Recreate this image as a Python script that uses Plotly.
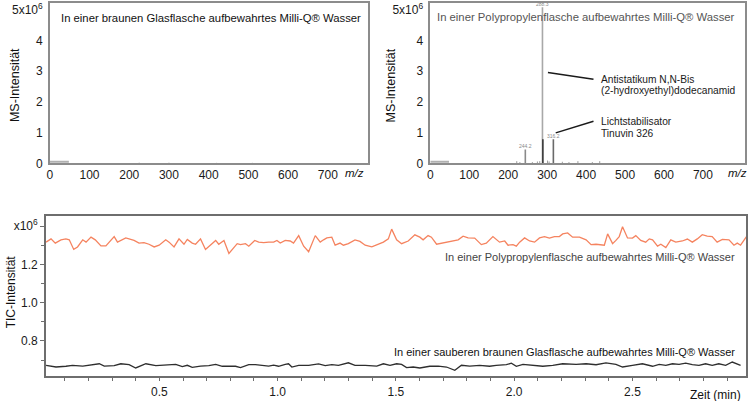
import plotly.graph_objects as go

W, H = 750, 401
FONT = "Liberation Sans, Arial, sans-serif"

# ---------------- data ----------------
# top-right mass spectrum (m/z, intensity in 1e6)
peak_mz = [244, 288, 289, 316]
peak_int = [0.45, 5.08, 0.78, 0.78]
peak_labels = ["244.2", "288.3", "", "316.2"]
peak_colors = ["#8a8a8a", "#a8a8a8", "#3a3a3a", "#6a6a6a"]
small_mz = [222, 230, 262, 275, 281, 301, 305, 339, 356, 379, 416, 435]
small_int = [0.07, 0.04, 0.04, 0.06, 0.07, 0.09, 0.06, 0.05, 0.04, 0.07, 0.04, 0.07]
noise_mz = [0, 48]
noise_int = [0.05, 0.05]
left_small_mz = [225, 300, 420, 510]
left_small_int = [0.02, 0.02, 0.015, 0.015]

# bottom TIC traces (time in min, intensity in 1e6)
pp_t = [0.021, 0.042, 0.060, 0.084, 0.105, 0.119, 0.138, 0.154, 0.176, 0.190, 0.211, 0.229,
        0.253, 0.274, 0.309, 0.323, 0.358, 0.393, 0.414, 0.435, 0.456, 0.478, 0.499, 0.527,
        0.541, 0.562, 0.583, 0.604, 0.618, 0.639, 0.653, 0.674, 0.695, 0.716, 0.738, 0.751,
        0.773, 0.794, 0.815, 0.829, 0.843, 0.864, 0.878, 0.903, 0.920, 0.941, 0.962, 0.983,
        0.997, 1.011, 1.032, 1.053, 1.067, 1.089, 1.110, 1.131, 1.159, 1.180, 1.194, 1.208,
        1.229, 1.243, 1.264, 1.278, 1.299, 1.327, 1.348, 1.370, 1.398, 1.419,
        1.447, 1.468, 1.482, 1.503, 1.524, 1.552, 1.580, 1.601, 1.615, 1.636, 1.650, 1.672,
        1.721, 1.763, 1.784, 1.805, 1.833, 1.861, 1.882, 1.910, 1.938, 1.960, 1.974, 1.995,
        2.009, 2.023, 2.044, 2.065, 2.086, 2.107, 2.128, 2.149, 2.170, 2.191, 2.205, 2.226,
        2.247, 2.276, 2.304, 2.325, 2.346, 2.381, 2.395, 2.416, 2.430, 2.444, 2.458, 2.479,
        2.500, 2.514, 2.535, 2.556, 2.571, 2.585, 2.606, 2.620, 2.641, 2.662, 2.683, 2.711,
        2.732, 2.753, 2.774, 2.795, 2.816, 2.837, 2.858, 2.880, 2.908, 2.929, 2.943, 2.957, 2.982]
pp_v = [1.316, 1.333, 1.311, 1.328, 1.333, 1.328, 1.278, 1.291, 1.328, 1.316, 1.342, 1.328,
        1.296, 1.296, 1.345, 1.316, 1.338, 1.325, 1.311, 1.313, 1.305, 1.291, 1.300, 1.328,
        1.316, 1.291, 1.333, 1.305, 1.330, 1.311, 1.305, 1.333, 1.278, 1.300, 1.325, 1.305,
        1.325, 1.257, 1.288, 1.308, 1.303, 1.308, 1.295, 1.325, 1.316, 1.313, 1.316, 1.316,
        1.325, 1.311, 1.325, 1.322, 1.311, 1.350, 1.295, 1.266, 1.350, 1.316, 1.328, 1.338,
        1.342, 1.300, 1.311, 1.300, 1.308, 1.328, 1.320, 1.300, 1.291, 1.300,
        1.316, 1.333, 1.384, 1.328, 1.308, 1.322, 1.354, 1.342, 1.328, 1.350, 1.342, 1.305,
        1.316, 1.328, 1.347, 1.338, 1.337, 1.303, 1.311, 1.345, 1.316, 1.322, 1.300, 1.303,
        1.295, 1.316, 1.338, 1.322, 1.316, 1.338, 1.345, 1.337, 1.345, 1.345, 1.359, 1.364,
        1.342, 1.342, 1.328, 1.303, 1.305, 1.300, 1.359, 1.308, 1.325, 1.345, 1.396, 1.338,
        1.337, 1.350, 1.325, 1.316, 1.333, 1.328, 1.295, 1.305, 1.288, 1.328, 1.316, 1.322,
        1.332, 1.316, 1.333, 1.355, 1.347, 1.345, 1.316, 1.330, 1.328, 1.300, 1.311, 1.300, 1.345]

gl_t = [0.021, 0.063, 0.105, 0.133, 0.176, 0.204, 0.246, 0.267, 0.309, 0.337, 0.372, 0.400,
        0.443, 0.485, 0.527, 0.569, 0.597, 0.618, 0.639, 0.674, 0.709, 0.738, 0.766, 0.794,
        0.822, 0.843, 0.878, 0.906, 0.934, 0.962, 0.983, 1.004, 1.032, 1.046, 1.060, 1.089,
        1.131, 1.173, 1.201, 1.229, 1.257, 1.299, 1.327, 1.370, 1.419,
        1.447, 1.475, 1.503, 1.524, 1.545, 1.573, 1.601, 1.643, 1.679, 1.714, 1.749, 1.777,
        1.812, 1.854, 1.896, 1.924, 1.967, 1.988, 2.009, 2.037, 2.079, 2.121, 2.163, 2.205,
        2.262, 2.304, 2.346, 2.388, 2.430, 2.458, 2.500, 2.542, 2.585, 2.613, 2.641, 2.669,
        2.697, 2.725, 2.753, 2.781, 2.809, 2.837, 2.865, 2.894, 2.922, 2.957]
gl_v = [0.673, 0.664, 0.668, 0.673, 0.669, 0.673, 0.681, 0.669, 0.671, 0.681, 0.676, 0.659,
        0.681, 0.671, 0.673, 0.678, 0.666, 0.673, 0.662, 0.669, 0.671, 0.678, 0.668, 0.669,
        0.668, 0.661, 0.676, 0.676, 0.673, 0.669, 0.674, 0.668, 0.678, 0.681, 0.664, 0.673,
        0.673, 0.680, 0.671, 0.676, 0.673, 0.686, 0.673, 0.673, 0.669,
        0.681, 0.673, 0.681, 0.678, 0.661, 0.664, 0.659, 0.668, 0.669, 0.664, 0.647, 0.673,
        0.669, 0.673, 0.668, 0.673, 0.676, 0.684, 0.668, 0.678, 0.673, 0.668, 0.673, 0.681,
        0.678, 0.681, 0.676, 0.686, 0.678, 0.664, 0.673, 0.681, 0.668, 0.678, 0.673, 0.681,
        0.678, 0.684, 0.676, 0.673, 0.681, 0.673, 0.681, 0.673, 0.690, 0.673]

ms_xticks = [0, 100, 200, 300, 400, 500, 600, 700]
ms_yticks = [0, 1, 2, 3, 4, 5]
ms_yticktext = ["0", "1", "2", "3", "4", "5x10<sup>6</sup>"]
tic_xticks = [0.5, 1.0, 1.5, 2.0, 2.5]
tic_xticktext = ["0.5", "1.0", "1.5", "2.0", "2.5"]
tic_yticks = [0.8, 1.0, 1.2, 1.4]
tic_yticktext = ["0.8", "1.0", "1.2", "x10<sup>6</sup>"]

title_left = "In einer braunen Glasflasche aufbewahrtes Milli-Q® Wasser"
title_right = "In einer Polypropylenflasche aufbewahrtes Milli-Q® Wasser"
label_pp = "In einer Polypropylenflasche aufbewahrtes Milli-Q® Wasser"
label_gl = "In einer sauberen braunen Glasflasche aufbewahrtes Milli-Q® Wasser"

# ---------------- helpers ----------------
def px(x):
    return x / W

def py(y):
    return 1 - y / H

def stems(xs, ys):
    X, Y = [], []
    for a, b in zip(xs, ys):
        X += [a, a, None]
        Y += [0, b, None]
    return X, Y

fig = go.Figure()

# top-left spectrum
fig.add_trace(go.Scatter(x=noise_mz, y=noise_int, mode="lines", line=dict(color="#b0b0b0", width=2),
                         xaxis="x", yaxis="y", showlegend=False, hoverinfo="skip"))
sx, sy = stems(left_small_mz, left_small_int)
fig.add_trace(go.Scatter(x=sx, y=sy, mode="lines", line=dict(color="#a0a0a0", width=1),
                         xaxis="x", yaxis="y", showlegend=False, hoverinfo="skip"))

# top-right spectrum
fig.add_trace(go.Scatter(x=noise_mz, y=noise_int, mode="lines", line=dict(color="#b0b0b0", width=2),
                         xaxis="x2", yaxis="y2", showlegend=False, hoverinfo="skip"))
sx, sy = stems(small_mz, small_int)
fig.add_trace(go.Scatter(x=sx, y=sy, mode="lines", line=dict(color="#9a9a9a", width=1),
                         xaxis="x2", yaxis="y2", showlegend=False, hoverinfo="skip"))
for m, v, c in zip(peak_mz, peak_int, peak_colors):
    sx, sy = stems([m], [v])
    fig.add_trace(go.Scatter(x=sx, y=sy, mode="lines", line=dict(color=c, width=1.6),
                             xaxis="x2", yaxis="y2", showlegend=False, hoverinfo="skip"))
for m, v, t in zip(peak_mz, peak_int, peak_labels):
    if t:
        fig.add_annotation(x=m, y=v, xref="x2", yref="y2", text=t, showarrow=False,
                           yanchor="bottom", yshift=-2, font=dict(size=5, color="#8a8a8a", family=FONT))

# bottom TIC
fig.add_trace(go.Scatter(x=pp_t, y=pp_v, mode="lines", line=dict(color="#f5835f", width=1.3),
                         xaxis="x3", yaxis="y3", showlegend=False))
fig.add_trace(go.Scatter(x=gl_t, y=gl_v, mode="lines", line=dict(color="#2e2e2e", width=1.3),
                         xaxis="x3", yaxis="y3", showlegend=False))

frame_top = dict(showline=True, linecolor="#8c8c8c", linewidth=1.5, mirror=True,
                 showgrid=False, zeroline=False, ticklabeloverflow="allow",
                 tickfont=dict(family=FONT, size=12, color="#1a1a1a"))
frame_bot = dict(showline=True, linecolor="#6e6e6e", linewidth=1.5, mirror=True,
                 showgrid=False, zeroline=False, ticklabeloverflow="allow",
                 tickfont=dict(family=FONT, size=12, color="#1a1a1a"))

ms_ymax = 5.22
fig.update_layout(
    width=W, height=H, margin=dict(l=0, r=0, t=0, b=0),
    paper_bgcolor="white", plot_bgcolor="white",
    font=dict(family=FONT),
    xaxis=dict(domain=[px(47), px(366)], range=[0, 800], tickvals=ms_xticks, ticks="",
               anchor="y", **frame_top),
    yaxis=dict(domain=[py(165), py(1)], range=[0, ms_ymax], tickvals=ms_yticks,
               ticktext=ms_yticktext, ticks="", anchor="x", ticklabelstandoff=3, **frame_top),
    xaxis2=dict(domain=[px(429), px(745)], range=[0, 808], tickvals=ms_xticks, ticks="",
                anchor="y2", **frame_top),
    yaxis2=dict(domain=[py(165), py(1)], range=[0, ms_ymax], tickvals=ms_yticks,
                ticktext=ms_yticktext, ticks="", anchor="x2", ticklabelstandoff=3, **frame_top),
    xaxis3=dict(domain=[px(43), px(746)], range=[0.02, 2.98], tickvals=tic_xticks,
                ticktext=tic_xticktext,
                ticks="outside", ticklen=3, tickcolor="#6e6e6e",
                minor=dict(dtick=0.1, tick0=0, ticks="outside", ticklen=3, tickcolor="#6e6e6e"),
                anchor="y3", **frame_bot),
    yaxis3=dict(domain=[py(383), py(219)], range=[0.615, 1.452], tickvals=tic_yticks,
                ticktext=tic_yticktext, ticks="outside", ticklen=4, tickcolor="#6e6e6e",
                minor=dict(dtick=0.1, tick0=0, ticks="outside", ticklen=3, tickcolor="#6e6e6e"),
                anchor="x3", **frame_bot),
)

def ann(x, y, text, size=11, color="#111", xanchor="left", angle=0, italic=False,
        yanchor="middle", yshift=0):
    fig.add_annotation(x=px(x), y=py(y), xref="paper", yref="paper", text=text, showarrow=False,
                       xanchor=xanchor, yanchor=yanchor, textangle=angle, yshift=yshift,
                       font=dict(family=FONT, size=size, color=color,
                                 style="italic" if italic else "normal"))

ann(56, 16, title_left, size=11.3, color="#111")
ann(434, 15, title_right, size=11.3, color="#555")
ann(12, 85, "MS-Intensität", size=12.5, angle=-90, xanchor="center")
ann(390, 85, "MS-Intensität", size=12.5, angle=-90, xanchor="center")
ann(8, 296, "TIC-Intensität", size=12, angle=-90, xanchor="center")
ann(353, 175, "m/z", size=11.5, italic=True, xanchor="center")
ann(737, 175, "m/z", size=11.5, italic=True, xanchor="center")
ann(737, 261, label_pp, size=11, color="#444", xanchor="right")
ann(737, 358, label_gl, size=11, color="#111", xanchor="right")
ann(715, 393, "Zeit (min)", size=12, color="#111", xanchor="center", yshift=-9)

# top-right callouts (positions in m/z / intensity units of the right panel)
fig.add_shape(type="line", xref="x2", yref="y2", x0=302, y0=2.96, x1=419, y1=2.74,
              line=dict(color="#1a1a1a", width=1.5))
fig.add_shape(type="line", xref="x2", yref="y2", x0=322, y0=0.99, x1=419, y1=1.37,
              line=dict(color="#1a1a1a", width=1.5))
for txt, yy in [("Antistatikum N,N-Bis", 2.74), ("(2-hydroxyethyl)dodecanamid", 2.36),
                ("Lichtstabilisator", 1.37), ("Tinuvin 326", 0.955)]:
    fig.add_annotation(x=432, y=yy, xref="x2", yref="y2", text=txt, showarrow=False,
                       xanchor="left", yanchor="middle",
                       font=dict(family=FONT, size=10.2, color="#1a1a1a"))

fig.write_html("out.html")
